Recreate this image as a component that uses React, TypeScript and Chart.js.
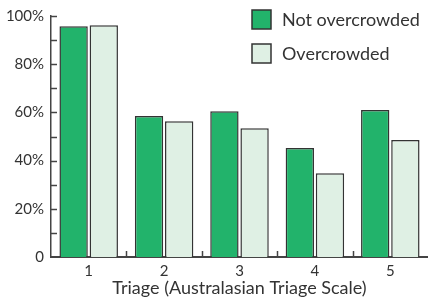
import React, { useEffect, useRef } from "react";
import { Chart, registerables } from "chart.js";

Chart.register(...registerables);

const categories = ["1", "2", "3", "4", "5"];
const notOvercrowded = [95.7, 58.5, 60.5, 45.2, 61];
const overcrowded = [96.2, 56.3, 53.4, 34.8, 48.5];
const seriesNames = ["Not overcrowded", "Overcrowded"];
const yTicks = [0, 20, 40, 60, 80, 100];

const GREEN = "#22b36b";
const LIGHT = "#dff0e4";
const EDGE = "#333333";
const TEXT = "#333333";
const FONT = "Lato, 'Open Sans', sans-serif";

const decorPlugin = {
  id: "decor",
  afterDraw(chart: any) {
    const ctx = chart.ctx;
    const y = chart.scales.y;
    const x = chart.scales.x;
    const area = chart.chartArea;
    ctx.save();
    ctx.strokeStyle = "#444";
    ctx.lineWidth = 1.5;
    for (let v = 10; v <= 100; v += 10) {
      const py = Math.round(y.getPixelForValue(v)) + 0.5;
      ctx.beginPath();
      ctx.moveTo(area.left, py);
      ctx.lineTo(area.left + 6, py);
      ctx.stroke();
    }
    for (let i = 0; i < categories.length - 1; i++) {
      const px = (x.getPixelForValue(i) + x.getPixelForValue(i + 1)) / 2;
      ctx.beginPath();
      ctx.moveTo(Math.round(px) + 0.5, area.bottom);
      ctx.lineTo(Math.round(px) + 0.5, area.bottom - 6);
      ctx.stroke();
    }
    const colors = [GREEN, LIGHT];
    ctx.font = "18px " + FONT;
    ctx.textBaseline = "middle";
    ctx.textAlign = "left";
    seriesNames.forEach((name, i) => {
      const top = 10 + i * 34;
      ctx.fillStyle = colors[i];
      ctx.fillRect(252, top, 19, 19);
      ctx.strokeStyle = EDGE;
      ctx.lineWidth = 1.5;
      ctx.strokeRect(252, top, 19, 19);
      ctx.fillStyle = TEXT;
      ctx.fillText(name, 282, top + 10);
    });
    ctx.restore();
  },
};

export default function App() {
  const ref = useRef<HTMLCanvasElement>(null);
  useEffect(() => {
    document.body.style.margin = "0";
    const chart = new Chart(ref.current!, {
      type: "bar",
      data: {
        labels: categories,
        datasets: [
          {
            label: seriesNames[0],
            data: notOvercrowded,
            backgroundColor: GREEN,
            borderColor: EDGE,
            borderWidth: 1.5,
            categoryPercentage: 0.8,
            barPercentage: 0.94,
          },
          {
            label: seriesNames[1],
            data: overcrowded,
            backgroundColor: LIGHT,
            borderColor: EDGE,
            borderWidth: 1.5,
            categoryPercentage: 0.8,
            barPercentage: 0.94,
          },
        ],
      },
      options: {
        animation: false,
        responsive: false,
        maintainAspectRatio: false,
        layout: { padding: { top: 13, right: 0, left: 0, bottom: 0 } },
        plugins: { legend: { display: false }, tooltip: { enabled: false } },
        scales: {
          x: {
            grid: { display: false, drawTicks: false },
            border: { display: true, color: "#444", width: 2 },
            ticks: { color: TEXT, font: { size: 15, family: FONT }, padding: 5 },
            title: {
              display: true,
              text: "Triage (Australasian Triage Scale)",
              color: TEXT,
              font: { size: 18, family: FONT },
              padding: { top: 0, bottom: 3 },
            },
            afterFit(scale: any) {
              scale.height = 45;
            },
          },
          y: {
            min: 0,
            max: 100,
            grid: { display: false, drawTicks: false },
            border: { display: true, color: "#444", width: 1.5 },
            afterBuildTicks(scale: any) {
              scale.ticks = yTicks.map((v) => ({ value: v }));
            },
            ticks: {
              color: TEXT,
              font: { size: 15, family: FONT },
              padding: 7,
              callback: (v: any) => (v === 0 ? "0" : v + "%"),
            },
            afterFit(scale: any) {
              scale.width = 51;
            },
          },
        },
      },
      plugins: [decorPlugin],
    });
    return () => chart.destroy();
  }, []);
  return (
    <div style={{ width: 428, height: 302 }}>
      <canvas ref={ref} width={428} height={302} />
    </div>
  );
}
